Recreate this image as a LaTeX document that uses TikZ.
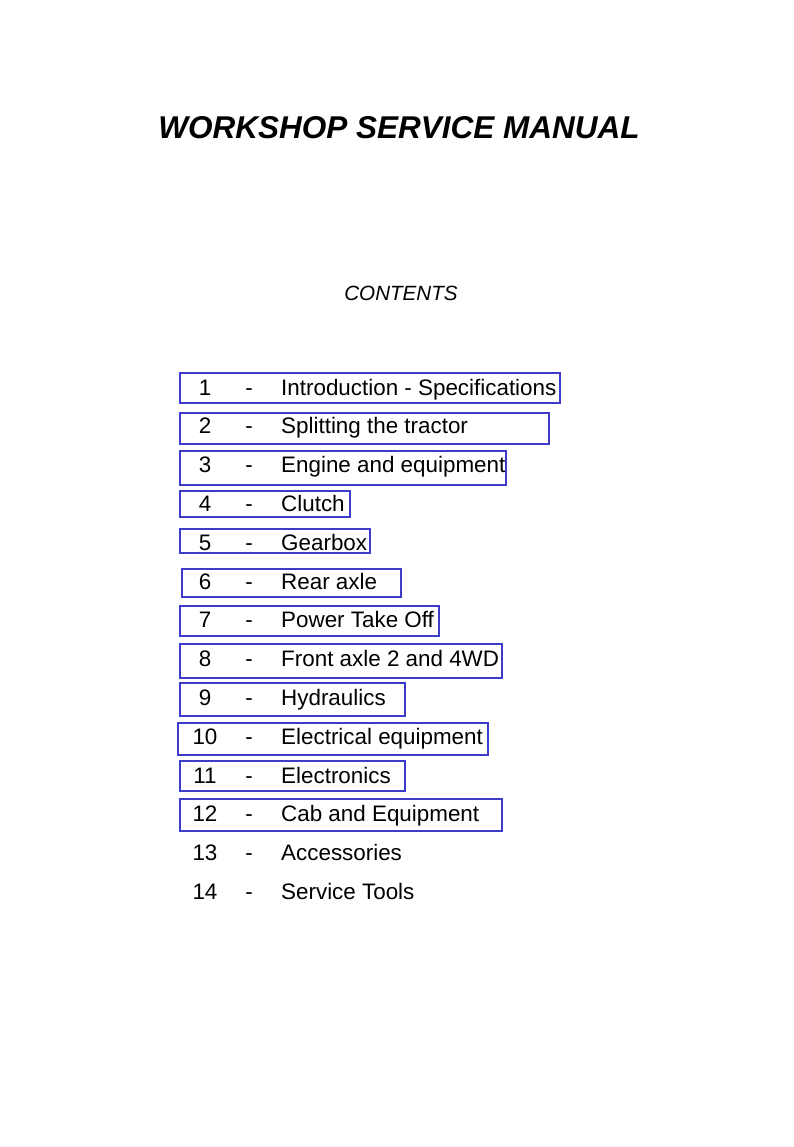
\documentclass[tikz,border=0pt]{standalone}
\usepackage{fontspec}
\setmainfont{Liberation Sans}
\definecolor{boxblue}{RGB}{60,60,200}
\begin{document}
\begin{tikzpicture}[x=1pt,y=-1pt,
  box/.style={draw=boxblue,line width=1.3pt},
  item/.style={anchor=base west,font=\fontsize{22.4}{26}\selectfont,inner sep=0},
  num/.style={anchor=base,font=\fontsize{22.4}{26}\selectfont,inner sep=0}]
\useasboundingbox (0,0) rectangle (794,1147);
\node[anchor=base,inner sep=0,font=\fontsize{31.5}{36}\selectfont\bfseries\itshape] (title) at (399,139) {WORKSHOP SERVICE MANUAL};
\node[anchor=base,inner sep=0,font=\fontsize{20.6}{24}\selectfont\itshape] (cont) at (401,301) {CONTENTS};
\foreach \n/\t [count=\i] in {1/Introduction - Specifications,2/Splitting the tractor,3/Engine and equipment,4/Clutch,5/Gearbox,6/Rear axle,7/Power Take Off,8/Front axle 2 and 4WD,9/Hydraulics,10/Electrical equipment,11/Electronics,12/Cab and Equipment,13/Accessories,14/Service Tools}{
  \pgfmathsetmacro\yy{395+(\i-1)*38.8}
  \node[num] (n\i) at (205,\yy) {\n};
  \node[num] (d\i) at (249,\yy) {-};
  \node[item] (t\i) at (281,\yy) {\t};
}
\foreach \a/\b/\c/\d [count=\i] in {180/373/560/403,180/413/549/444,180/451/506/485,180/491/350/517,180/529/370/553,182/569/401/597,180/606/439/636,180/644/502/678,180/683/405/716,178/723/488/755,180/761/405/791,180/799/502/831}
  \draw[box] (\a,\b) rectangle (\c,\d);
\end{tikzpicture}
\end{document}
